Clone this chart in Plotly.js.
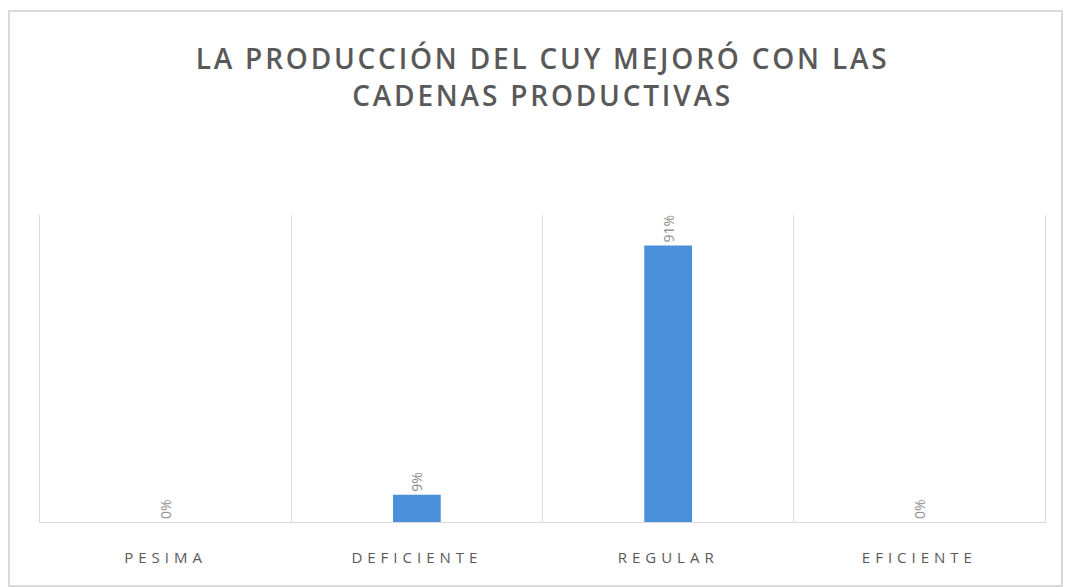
<!DOCTYPE html>
<html>
<head>
<meta charset="utf-8">
<script src="https://cdn.plot.ly/plotly-3.0.1.min.js"></script>
<style>
html,body{margin:0;padding:0;background:#fff;}
#wrap{position:relative;width:1066px;height:587px;}
#chart{position:absolute;left:0;top:0;width:1066px;height:587px;}
#frame{position:absolute;left:8px;top:10px;width:1051px;height:573px;border:2px solid #d9d9d9;pointer-events:none;}
.xtick text{letter-spacing:5px;}
.gtitle{letter-spacing:2.8px;}
</style>
</head>
<body>
<div id="wrap">
<div id="chart"></div>
<div id="frame"></div>
</div>
<script>
const categories = ["PESIMA", "DEFICIENTE", "REGULAR", "EFICIENTE"];
const values = [0, 9, 91, 0];
const labels = ["0%", "9%", "91%", "0%"];
const titleText = "LA PRODUCCIÓN DEL CUY MEJORÓ CON LAS<br>CADENAS PRODUCTIVAS";

const trace = {
  type: "bar",
  x: categories,
  y: values,
  text: labels,
  textposition: "outside",
  textangle: -90,
  cliponaxis: false,
  textfont: {family: "Open Sans, sans-serif", size: 14, color: "#8c8c8c"},
  marker: {color: "#4a8fd9", line: {width: 0}},
  width: 0.19,
  hoverinfo: "none"
};

const layout = {
  width: 1066,
  height: 587,
  margin: {l: 40, r: 21, t: 215, b: 65},
  paper_bgcolor: "#ffffff",
  plot_bgcolor: "#ffffff",
  showlegend: false,
  title: {
    text: titleText,
    x: 0.509,
    xanchor: "center",
    y: 0.882,
    yanchor: "middle",
    font: {family: "Open Sans, sans-serif", size: 28, color: "#595959", weight: 600}
  },
  xaxis: {
    type: "category",
    tickson: "boundaries",
    showgrid: true,
    gridcolor: "#d9d9d9",
    gridwidth: 1,
    showline: true,
    linecolor: "#d9d9d9",
    linewidth: 1,
    ticks: "",
    ticklen: 0,
    ticklabelstandoff: 22,
    tickfont: {family: "Open Sans, sans-serif", size: 15, color: "#595959"},
    zeroline: false
  },
  yaxis: {
    range: [0, 101],
    showticklabels: false,
    showgrid: false,
    zeroline: false,
    showline: true,
    mirror: true,
    linecolor: "#d9d9d9",
    linewidth: 1,
    ticks: ""
  }
};

Plotly.newPlot("chart", [trace], layout, {displayModeBar: false, staticPlot: true});
</script>
</body>
</html>
